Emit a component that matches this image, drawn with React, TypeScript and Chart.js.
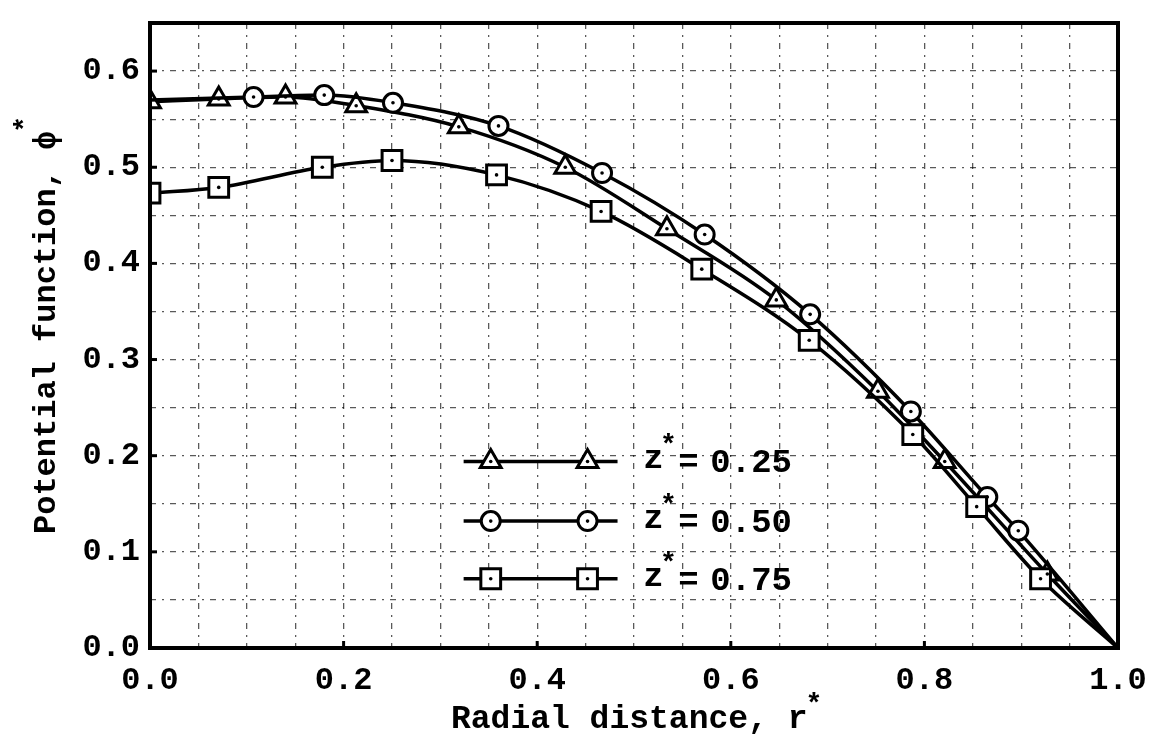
import React, { useEffect, useRef } from 'react';
import { Chart, registerables } from 'chart.js';

Chart.register(...registerables);

const FONT = '"Liberation Mono", "DejaVu Sans Mono", monospace';

// z* = 0.25 (triangles)
const rZ25 = [0.0, 0.071, 0.140, 0.213, 0.319, 0.429, 0.534, 0.647, 0.752, 0.821, 0.927, 1.0];
const phiZ25 = [0.568, 0.571, 0.573, 0.564, 0.542, 0.500, 0.436, 0.362, 0.267, 0.194, 0.077, 0.0];
// z* = 0.50 (circles)
const rZ50 = [0.0, 0.107, 0.180, 0.251, 0.360, 0.467, 0.573, 0.682, 0.786, 0.865, 0.897, 1.0];
const phiZ50 = [0.570, 0.573, 0.575, 0.567, 0.543, 0.494, 0.430, 0.347, 0.246, 0.157, 0.122, 0.0];
// z* = 0.75 (squares)
const rZ75 = [0.0, 0.071, 0.178, 0.250, 0.358, 0.466, 0.570, 0.681, 0.788, 0.854, 0.920, 1.0];
const phiZ75 = [0.473, 0.479, 0.500, 0.507, 0.492, 0.454, 0.394, 0.320, 0.222, 0.147, 0.072, 0.0];

const seriesValues = ['0.25', '0.50', '0.75'];
const seriesStyles = ['triangle', 'circle', 'rect'];

const xTickValues = [0.0, 0.2, 0.4, 0.6, 0.8, 1.0];
const xTickLabels = ['0.0', '0.2', '0.4', '0.6', '0.8', '1.0'];
const yTickValues = [0.0, 0.1, 0.2, 0.3, 0.4, 0.5, 0.6];
const yTickLabels = ['0.0', '0.1', '0.2', '0.3', '0.4', '0.5', '0.6'];
const xGridValues = [0, 0.05, 0.1, 0.15, 0.2, 0.25, 0.3, 0.35, 0.4, 0.45, 0.5, 0.55, 0.6, 0.65, 0.7, 0.75, 0.8, 0.85, 0.9, 0.95, 1.0];
const yGridValues = [0, 0.05, 0.1, 0.15, 0.2, 0.25, 0.3, 0.35, 0.4, 0.45, 0.5, 0.55, 0.6, 0.65];

const xTitle = 'Radial distance, r';
const yTitle = 'Potential function, \u03D5';

const MARKER_R: Record<string, number> = { triangle: 12, circle: 9.5, rect: 14 };

function labelFor(values: number[], labels: string[], v: number) {
  const i = values.findIndex((t) => Math.abs(t - v) < 1e-6);
  return i >= 0 ? labels[i] : '';
}

function drawMarker(ctx: CanvasRenderingContext2D, style: string, x: number, y: number) {
  const r = MARKER_R[style];
  ctx.beginPath();
  if (style === 'triangle') {
    const a = -Math.PI / 2;
    for (let k = 0; k < 3; k++) {
      const ang = a + (k * 2 * Math.PI) / 3;
      const px = x + Math.cos(ang) * r;
      const py = y + Math.sin(ang) * r;
      if (k === 0) ctx.moveTo(px, py);
      else ctx.lineTo(px, py);
    }
    ctx.closePath();
  } else if (style === 'circle') {
    ctx.arc(x, y, r, 0, Math.PI * 2);
  } else {
    const s = Math.SQRT1_2 * r;
    ctx.rect(x - s, y - s, 2 * s, 2 * s);
  }
  ctx.fillStyle = '#fff';
  ctx.fill();
  ctx.lineWidth = 3;
  ctx.strokeStyle = '#000';
  ctx.stroke();
  ctx.beginPath();
  ctx.arc(x, y, 1.8, 0, Math.PI * 2);
  ctx.fillStyle = '#000';
  ctx.fill();
}

const dotsPlugin = {
  id: 'centerDots',
  afterDatasetsDraw(chart: any) {
    const { ctx, chartArea: a } = chart;
    ctx.save();
    ctx.fillStyle = '#000';
    chart.data.datasets.forEach((ds: any, i: number) => {
      const meta = chart.getDatasetMeta(i);
      meta.data.forEach((el: any, j: number) => {
        if (!ds.pointRadius[j]) return;
        if (el.x < a.left + 2 || el.x > a.right) return;
        ctx.beginPath();
        ctx.arc(el.x, el.y, 1.8, 0, Math.PI * 2);
        ctx.fill();
      });
    });
    ctx.restore();
  },
};

const framePlugin = {
  id: 'frameAndText',
  afterDraw(chart: any) {
    const { ctx, chartArea: a, scales } = chart;
    const xs = scales.x;
    const ys = scales.y;
    ctx.save();
    // frame
    ctx.lineWidth = 4;
    ctx.strokeStyle = '#000';
    ctx.setLineDash([]);
    ctx.strokeRect(a.left, a.top, a.right - a.left, a.bottom - a.top);
    // small inward major ticks
    ctx.lineWidth = 3;
    yTickValues.forEach((v) => {
      const py = ys.getPixelForValue(v);
      ctx.beginPath();
      ctx.moveTo(a.left, py);
      ctx.lineTo(a.left + 7, py);
      ctx.stroke();
    });
    xTickValues.forEach((v) => {
      const px = xs.getPixelForValue(v);
      ctx.beginPath();
      ctx.moveTo(px, a.bottom);
      ctx.lineTo(px, a.bottom - 7);
      ctx.stroke();
    });

    // legend
    const lx0 = xs.getPixelForValue(0.324);
    const lx1 = xs.getPixelForValue(0.483);
    const m1 = xs.getPixelForValue(0.352);
    const m2 = xs.getPixelForValue(0.452);
    const zx = xs.getPixelForValue(0.52);
    const rowVals = [0.194, 0.132, 0.072];
    rowVals.forEach((rv, i) => {
      const py = ys.getPixelForValue(rv);
      ctx.lineWidth = 3.5;
      ctx.strokeStyle = '#000';
      ctx.beginPath();
      ctx.moveTo(lx0, py);
      ctx.lineTo(lx1, py);
      ctx.stroke();
      drawMarker(ctx, seriesStyles[i], m1, py);
      drawMarker(ctx, seriesStyles[i], m2, py);
      ctx.fillStyle = '#000';
      ctx.textBaseline = 'alphabetic';
      ctx.textAlign = 'center';
      ctx.font = `bold 34px ${FONT}`;
      ctx.fillText('z', zx, py + 7);
      ctx.font = `bold 28px ${FONT}`;
      ctx.fillText('*', zx + 15, py - 8);
      ctx.font = `bold 34px ${FONT}`;
      ctx.fillText('=', zx + 35, py + 11);
      ctx.textAlign = 'left';
      ctx.fillText(seriesValues[i], zx + 57, py + 11);
    });

    // x axis title
    ctx.font = `bold 33px ${FONT}`;
    ctx.textAlign = 'left';
    ctx.textBaseline = 'alphabetic';
    const xtX = 451;
    const xtY = 728;
    ctx.fillText(xTitle, xtX, xtY);
    const wX = ctx.measureText(xTitle).width;
    ctx.font = `bold 28px ${FONT}`;
    ctx.fillText('*', xtX + wX - 2, xtY - 16);

    // y axis title
    ctx.save();
    ctx.translate(55, 534);
    ctx.rotate(-Math.PI / 2);
    ctx.font = `bold 32px ${FONT}`;
    ctx.fillText(yTitle, 0, 0);
    const wY = ctx.measureText(yTitle).width;
    ctx.font = `bold 28px ${FONT}`;
    ctx.fillText('*', wY - 2, -22);
    ctx.restore();

    ctx.restore();
  },
};

export default function App() {
  const ref = useRef<HTMLCanvasElement | null>(null);

  useEffect(() => {
    document.body.style.margin = '0';
    const canvas = ref.current;
    if (!canvas) return;

    const mk = (rs: number[], ps: number[], style: string, hideFirst: boolean) => {
      const radius = rs.map((_, i) => (i === rs.length - 1 || (hideFirst && i === 0) ? 0 : MARKER_R[style]));
      return {
        data: rs.map((r, i) => ({ x: r, y: ps[i] })),
        borderColor: '#000',
        borderWidth: 3.5,
        backgroundColor: '#fff',
        pointStyle: style,
        pointRadius: radius,
        pointBorderWidth: 3,
        pointBorderColor: '#000',
        pointBackgroundColor: '#fff',
        cubicInterpolationMode: 'monotone',
        fill: false,
        clip: 0,
      };
    };

    const gridCommon = {
      color: 'rgba(0,0,0,0.65)',
      lineWidth: 1.3,
      drawTicks: false,
    };

    const chart = new Chart(canvas, {
      type: 'line',
      data: {
        datasets: [
          mk(rZ75, phiZ75, 'rect', false),
          mk(rZ50, phiZ50, 'circle', true),
          mk(rZ25, phiZ25, 'triangle', false),
        ] as any,
      },
      options: {
        animation: false,
        responsive: false,
        events: [],
        layout: { padding: { left: 0, right: 38, top: 23, bottom: 0 } },
        plugins: {
          legend: { display: false },
          tooltip: { enabled: false },
        },
        scales: {
          x: {
            type: 'linear',
            min: 0,
            max: 1.0,
            afterBuildTicks: (s: any) => {
              s.ticks = xGridValues.map((v) => ({ value: v }));
            },
            afterFit: (s: any) => {
              s.height = 98;
              s.paddingLeft = 0;
              s.paddingRight = 0;
            },
            ticks: {
              autoSkip: false,
              maxRotation: 0,
              minRotation: 0,
              padding: 14,
              color: '#000',
              font: { family: FONT, size: 32, weight: 'bold' },
              callback: (v: any) => labelFor(xTickValues, xTickLabels, Number(v)),
            },
            grid: gridCommon,
            border: { display: false, dash: [6, 6, 2, 6] },
          },
          y: {
            type: 'linear',
            min: 0,
            max: 0.65,
            afterBuildTicks: (s: any) => {
              s.ticks = yGridValues.map((v) => ({ value: v }));
            },
            afterFit: (s: any) => {
              s.width = 150;
              s.paddingTop = 0;
              s.paddingBottom = 0;
            },
            ticks: {
              autoSkip: false,
              padding: 10,
              color: '#000',
              font: { family: FONT, size: 32, weight: 'bold' },
              callback: (v: any) => labelFor(yTickValues, yTickLabels, Number(v)),
            },
            grid: gridCommon,
            border: { display: false, dash: [6, 6, 2, 6] },
          },
        },
      } as any,
      plugins: [dotsPlugin, framePlugin],
    });

    return () => chart.destroy();
  }, []);

  return (
    <div style={{ position: 'absolute', left: 0, top: 0, width: 1156, height: 746, background: '#fff' }}>
      <canvas ref={ref} width={1156} height={746} />
    </div>
  );
}
